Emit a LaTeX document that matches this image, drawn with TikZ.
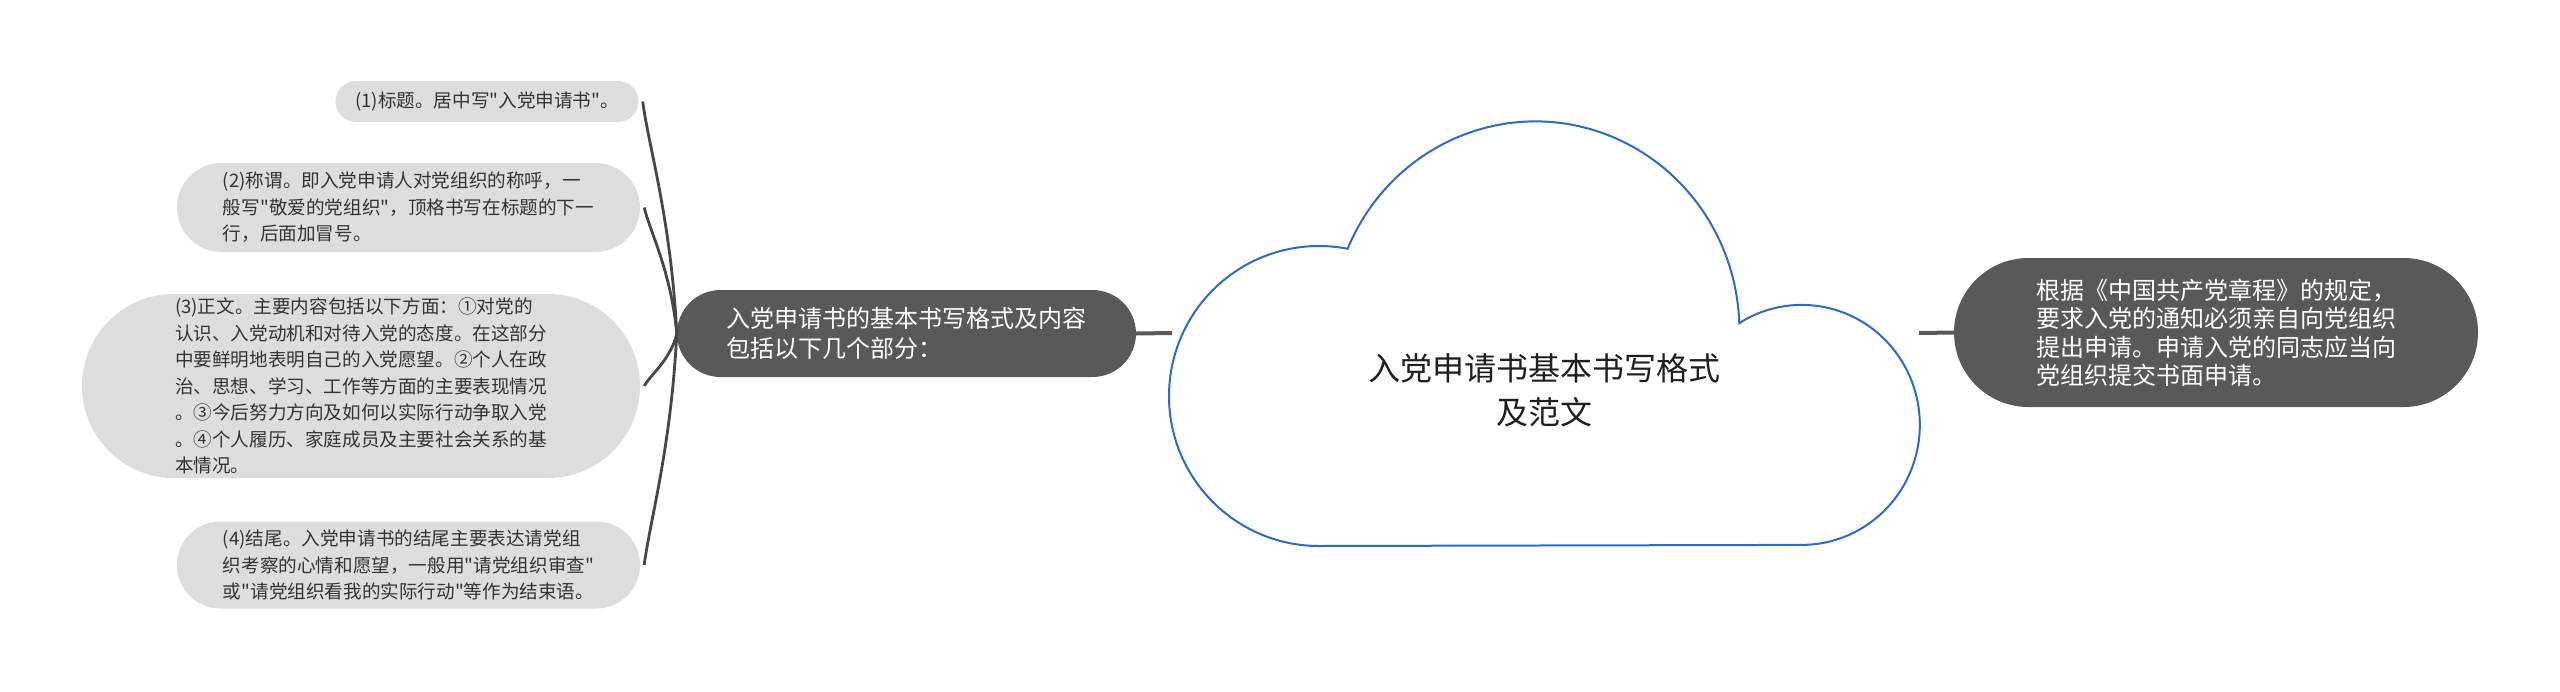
\documentclass[tikz,border=0pt]{standalone}
\usepackage{fontspec}
\newfontfamily\cjkmain{Noto Sans CJK SC}
\usetikzlibrary{calc}
\definecolor{darkfill}{HTML}{595959}
\definecolor{lightfill}{HTML}{DDDDDD}
\definecolor{txt}{HTML}{333333}
\definecolor{cloudblue}{HTML}{2F6BC4}
\definecolor{lk}{HTML}{474747}
\begin{document}
\begin{tikzpicture}[x=1pt,y=1pt,
  sub/.style={fill=lightfill, text=txt, align=left, inner sep=0pt,
    font=\cjkmain\fontsize{18.6}{26.5}\selectfont},
  mainbox/.style={fill=darkfill, text=white, align=left, inner sep=0pt,
    font=\cjkmain\fontsize{24}{30}\selectfont},
  link/.style={draw=lk, line width=2.8pt},
  bar/.style={draw=darkfill, line width=4pt}]
\useasboundingbox (0,0) rectangle (2560,-691);
\fill[white] (0,0) rectangle (2560,-691);

% cloud
\draw[cloudblue, line width=2pt, fill=white]
  (1319,-546) arc[start angle=270, end angle=79, radius=150]
  arc[start angle=157, end angle=2, x radius=204, y radius=209]
  arc[start angle=122, end angle=-90, x radius=118, y radius=120] -- cycle;
\node[font=\cjkmain\fontsize{32}{44}\selectfont, text=black!88, align=center, inner sep=0pt]
  (root) at (1544,-390) {入党申请书基本书写格式\\及范文};

% main nodes
\node[mainbox, minimum width=459pt, minimum height=87pt, rounded corners=43.5pt]
  (L) at (906.5,-333.5) {入党申请书的基本书写格式及内容\\包括以下几个部分：};
\node[mainbox, minimum width=524pt, minimum height=149pt, rounded corners=74.5pt,
  font=\cjkmain\fontsize{24}{28.5}\selectfont]
  (R) at (2216,-332.5) {根据《中国共产党章程》的规定，\\要求入党的通知必须亲自向党组织\\提出申请。申请入党的同志应当向\\党组织提交书面申请。};

% children
\node[sub, minimum width=303pt, minimum height=41pt, rounded corners=20.5pt]
  (c1) at (487,-101.5) {(1)标题。居中写"入党申请书"。};
\node[sub, minimum width=463pt, minimum height=89pt, rounded corners=44.5pt]
  (c2) at (408.5,-207.5) {(2)称谓。即入党申请人对党组织的称呼，一\\般写"敬爱的党组织"，顶格书写在标题的下一\\行，后面加冒号。};
\node[sub, minimum width=558pt, minimum height=184pt, rounded corners=92pt]
  (c3) at (361,-386) {(3)正文。主要内容包括以下方面：①对党的\\认识、入党动机和对待入党的态度。在这部分\\中要鲜明地表明自己的入党愿望。②个人在政\\治、思想、学习、工作等方面的主要表现情况\\。③今后努力方向及如何以实际行动争取入党\\。④个人履历、家庭成员及主要社会关系的基\\本情况。};
\node[sub, minimum width=463pt, minimum height=87pt, rounded corners=43.5pt]
  (c4) at (408.5,-565) {(4)结尾。入党申请书的结尾主要表达请党组\\织考察的心情和愿望，一般用"请党组织审查"\\或"请党组织看我的实际行动"等作为结束语。};

% connectors
\coordinate (cl) at (1172,-333);
\coordinate (cr) at (1919,-333);
\draw[bar] (L.east) -- (cl);
\draw[bar] (cr) -- (R.west);

\draw[link] (L.west) .. controls +(-6,116) and +(6,-46) .. ($(c1.east)+(4,0)$);
\draw[link] (L.west) .. controls +(-6,63) and +(6,-25) .. ($(c2.east)+(4,0)$);
\draw[link] (L.west) .. controls +(-6,-26) and +(6,11) .. ($(c3.east)+(4,0)$);
\draw[link] (L.west) .. controls +(-6,-116) and +(6,46) .. ($(c4.east)+(4,0)$);
\end{tikzpicture}
\end{document}
